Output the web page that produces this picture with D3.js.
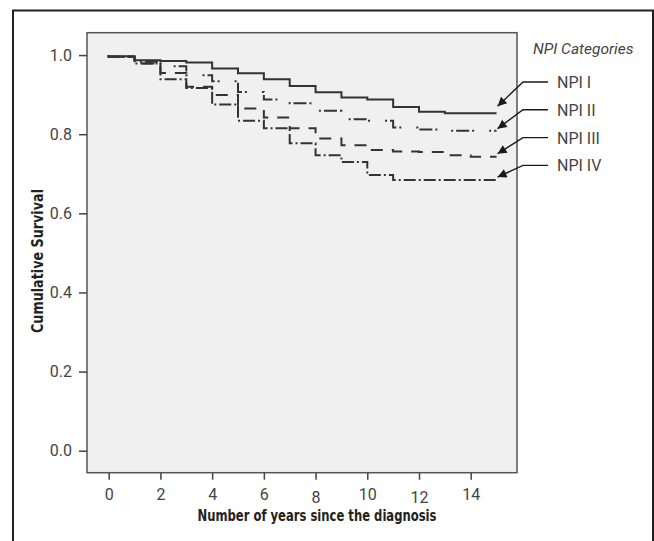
<!DOCTYPE html>
<html>
<head>
<meta charset="utf-8">
<script src="https://cdn.jsdelivr.net/npm/d3@7"></script>
<style>
  body { margin: 0; background: #fff; }
  svg { display: block; }
  .tick text { font-family: Roboto, "Liberation Sans", sans-serif; font-weight: 400; font-size: 16px; fill: #444; }
  .tick line { stroke: #444; stroke-width: 1.5; }
  .ttl { font-family: "Liberation Sans Narrow", "DejaVu Sans Condensed", sans-serif; font-stretch: condensed; font-weight: bold; font-size: 15px; fill: #222; }
  .leg { font-family: Roboto, "Liberation Sans", sans-serif; font-weight: 400; font-size: 16px; fill: #444; }
</style>
</head>
<body>
<div id="chart"></div>
<script>
/************************************************ Data ***********************************/

var years = [0, 1, 2, 3, 4, 5, 6, 7, 8, 9, 10, 11, 12, 13, 14];
var followUpEnd = 15;

var npi1 = [0.997, 0.987, 0.985, 0.981, 0.966, 0.954, 0.939, 0.922, 0.906, 0.893, 0.888, 0.869, 0.857, 0.853, 0.853];
var npi2 = [0.996, 0.983, 0.972, 0.949, 0.934, 0.907, 0.888, 0.878, 0.859, 0.838, 0.834, 0.817, 0.812, 0.809, 0.809];
var npi3 = [0.996, 0.979, 0.955, 0.920, 0.899, 0.865, 0.842, 0.815, 0.789, 0.772, 0.760, 0.756, 0.755, 0.747, 0.743];
var npi4 = [0.996, 0.979, 0.939, 0.917, 0.875, 0.834, 0.815, 0.777, 0.747, 0.730, 0.697, 0.684, 0.684, 0.684, 0.684];

var seriesNames = ['NPI I', 'NPI II', 'NPI III', 'NPI IV'];
var xTicks = [0, 2, 4, 6, 8, 10, 12, 14];
var yTicks = [0.0, 0.2, 0.4, 0.6, 0.8, 1.0];

/************************************************ Setup ***********************************/

var W = 654, H = 541;
var svg = d3.select('#chart').append('svg').attr('width', W).attr('height', H);

// outer frame (bottom edge falls below the picture)
svg.append('rect').attr('x', 13).attr('y', 10.5).attr('width', 640).attr('height', 580)
    .attr('fill', 'none').attr('stroke', '#231f20').attr('stroke-width', 2);

var plot = {left: 87, right: 517, top: 32.7, bottom: 472.7};

var x = d3.scaleLinear().domain([-0.84, 15.79]).range([plot.left, plot.right]);
var y = d3.scaleLinear().domain([-0.0556, 1.0566]).range([plot.bottom, plot.top]);

svg.append('rect').attr('x', plot.left).attr('y', plot.top)
    .attr('width', plot.right - plot.left).attr('height', plot.bottom - plot.top)
    .attr('fill', '#f0f0f0').attr('stroke', '#555').attr('stroke-width', 1.5);

/************************************************ Axes ***********************************/

var yAxis = svg.append('g').attr('transform', 'translate(' + plot.left + ',0)')
    .call(d3.axisLeft(y).tickValues(yTicks).tickSize(8).tickPadding(7).tickFormat(d3.format('.1f')));
yAxis.select('.domain').remove();

var xAxis = svg.append('g').attr('transform', 'translate(0,' + plot.bottom + ')')
    .call(d3.axisBottom(x).tickValues(xTicks).tickSize(7).tickPadding(9).tickFormat(d3.format('d')));
xAxis.select('.domain').remove();
// 8 and 12 sit a little lower in the original
xAxis.selectAll('.tick text').attr('dy', function(d) { return (d === 8 || d === 12) ? '0.88em' : '0.71em'; });

svg.append('text').attr('class', 'ttl').attr('x', 317).attr('y', 521)
    .attr('text-anchor', 'middle').attr('textLength', 239).attr('lengthAdjust', 'spacingAndGlyphs')
    .text('Number of years since the diagnosis');

svg.append('text').attr('class', 'ttl').attr('text-anchor', 'middle')
    .attr('textLength', 144).attr('lengthAdjust', 'spacingAndGlyphs')
    .attr('transform', 'translate(43,261) rotate(-90)').text('Cumulative Survival');

/************************************************ Curves ***********************************/

var dashes = [null, '2,3,13,3,2,15', '12,9', '12,3,2,3'];
var allSeries = [npi1, npi2, npi3, npi4];

var line = d3.line().curve(d3.curveStepAfter)
    .x(function(d) { return x(d[0]); })
    .y(function(d) { return y(d[1]); });

allSeries.forEach(function(vals, i) {
    var pts = [[0, 1.0]];
    years.forEach(function(t, j) { pts.push([t, vals[j]]); });
    pts.push([followUpEnd, vals[vals.length - 1]]);
    svg.append('path').datum(pts).attr('d', line)
        .attr('fill', 'none').attr('stroke', '#333').attr('stroke-width', 2)
        .attr('stroke-dasharray', dashes[i]);
});

/************************************************ Legend with arrows ***********************************/

svg.append('defs').append('marker').attr('id', 'arr')
    .attr('viewBox', '0 0 10 10').attr('refX', 10).attr('refY', 5)
    .attr('markerWidth', 12).attr('markerHeight', 9).attr('markerUnits', 'userSpaceOnUse')
    .attr('orient', 'auto')
    .append('path').attr('d', 'M0,0 L10,5 L0,10 z').attr('fill', '#1a1a1a');

svg.append('text').attr('class', 'leg').attr('x', 533).attr('y', 54)
    .style('font-style', 'italic').style('font-size', '15.5px').text('NPI Categories');

var tipShift = [-7, -2, -3, -3];
seriesNames.forEach(function(name, i) {
    var ly = 82 + i * 27.8;
    var last = allSeries[i][allSeries[i].length - 1];
    svg.append('text').attr('class', 'leg').attr('x', 557).attr('y', ly + 6).text(name);
    svg.append('path')
        .attr('d', 'M548,' + ly + ' L523,' + ly + ' L' + (x(followUpEnd) + 1) + ',' + (y(last) + tipShift[i]))
        .attr('fill', 'none').attr('stroke', '#1a1a1a').attr('stroke-width', 1.4)
        .attr('marker-end', 'url(#arr)');
});
</script>
</body>
</html>
